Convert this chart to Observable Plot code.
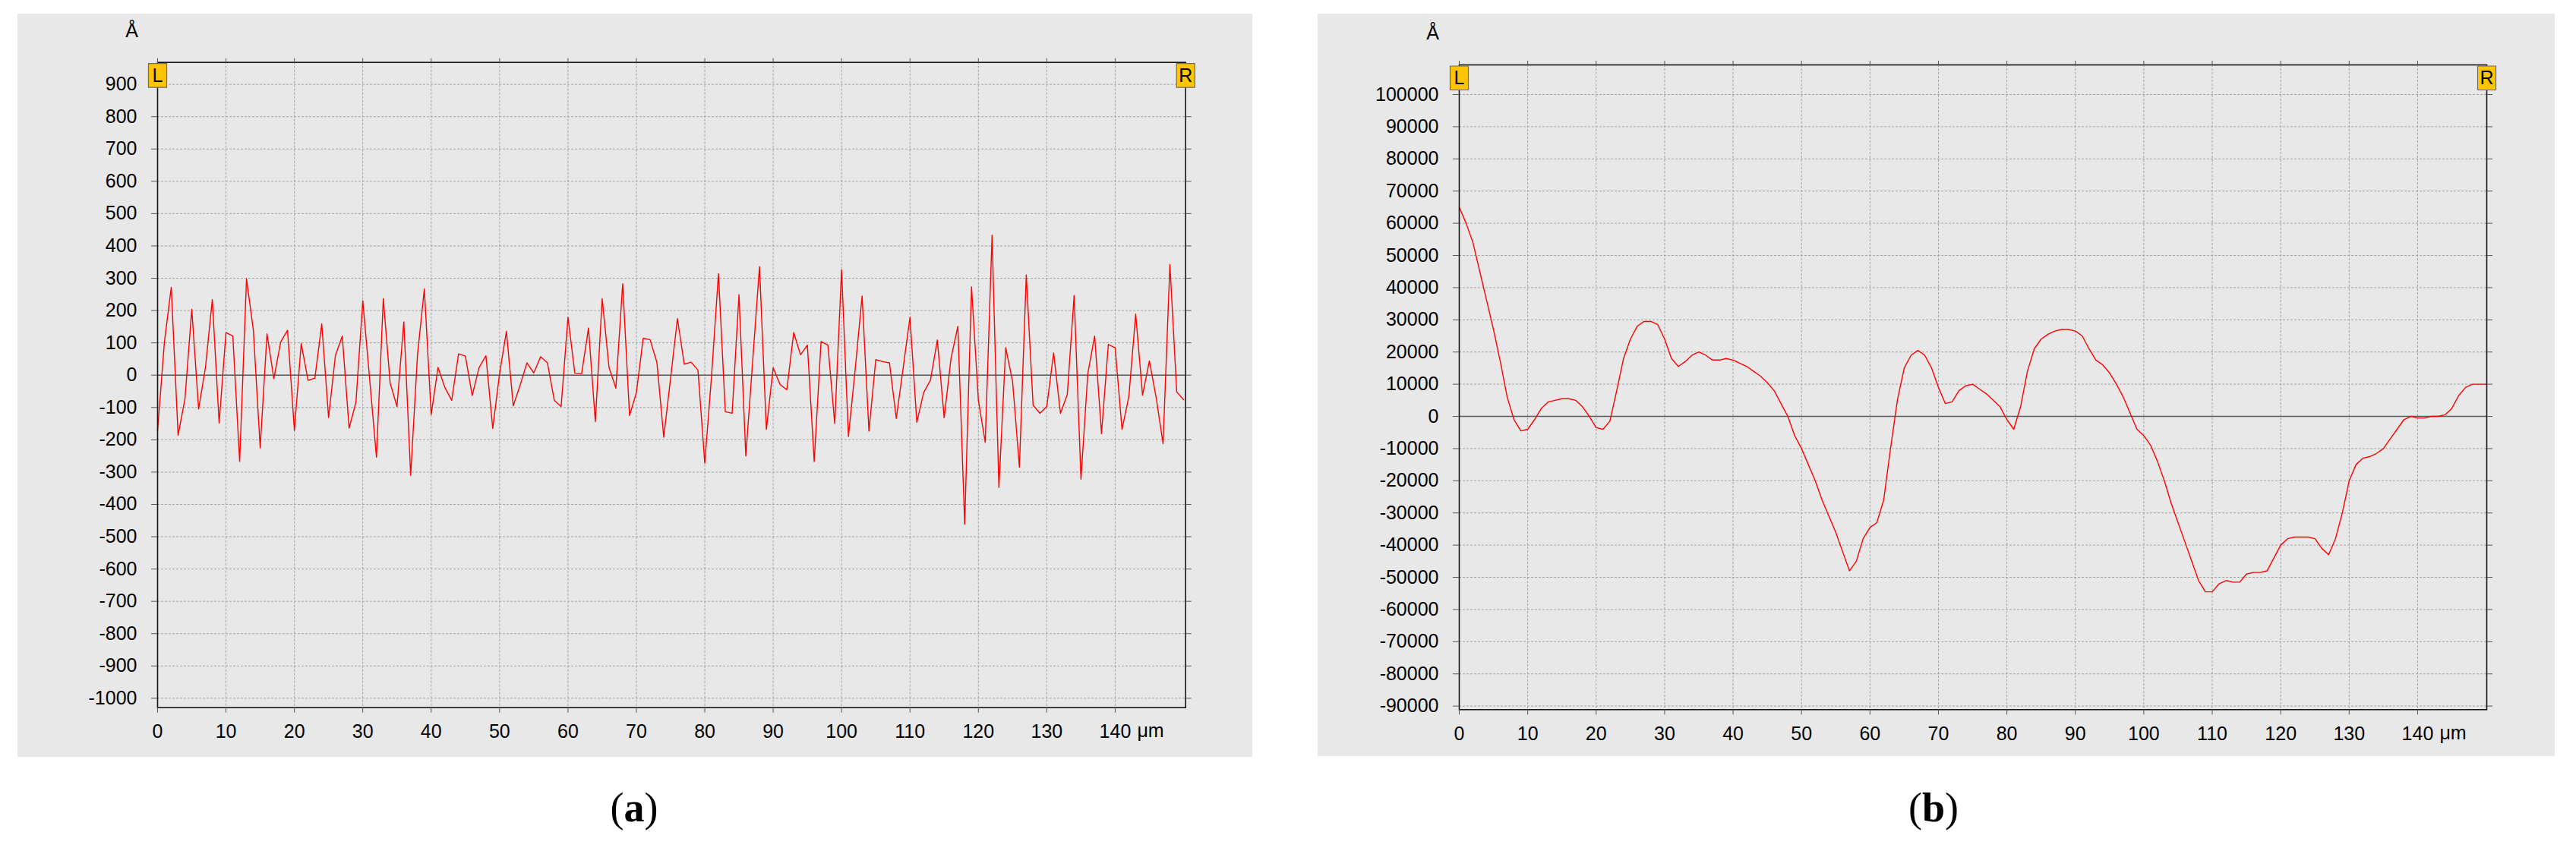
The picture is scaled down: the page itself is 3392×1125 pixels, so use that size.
<!DOCTYPE html>
<html><head><meta charset="utf-8">
<script src="https://cdn.jsdelivr.net/npm/d3@7"></script>
<script src="https://cdn.jsdelivr.net/npm/@observablehq/plot@0.6"></script>
<style>
body{margin:0;background:#fff;}
#root{position:relative;width:3392px;height:1125px;overflow:hidden;background:#fff;font-family:"Liberation Sans",Arial,sans-serif;}
.panel{position:absolute;background:#e8e8e8;}
.cap{position:absolute;font-family:"Liberation Serif","Times New Roman",serif;font-size:54px;transform:translate(-50%,-50%);color:#000;}
</style></head><body><div id="root"></div><script>
// positions along the profile (µm)
const positionsUm = [0,1,2,3,4,5,6,7,8,9,10,11,12,13,14,15,16,17,18,19,20,21,22,23,24,25,26,27,28,29,30,31,32,33,34,35,36,37,38,39,40,41,42,43,44,45,46,47,48,49,50,51,52,53,54,55,56,57,58,59,60,61,62,63,64,65,66,67,68,69,70,71,72,73,74,75,76,77,78,79,80,81,82,83,84,85,86,87,88,89,90,91,92,93,94,95,96,97,98,99,100,101,102,103,104,105,106,107,108,109,110,111,112,113,114,115,116,117,118,119,120,121,122,123,124,125,126,127,128,129,130,131,132,133,134,135,136,137,138,139,140,141,142,143,144,145,146,147,148,149,150];

// (a) profile heights (Å)
const heightsA = [-171,103,272,-186,-74,204,-105,24,234,-148,132,121,-267,298,140,-225,128,-11,103,139,
-171,98,-16,-9,159,-131,61,121,-164,-84,230,-11,-254,237,-24,-97,165,-310,63,267,
-122,24,-38,-78,66,59,-63,23,60,-165,5,136,-95,-31,38,7,57,38,-78,-97,
179,6,5,146,-144,237,24,-40,283,-125,-54,114,110,40,-192,-10,175,34,40,16,
-272,0,314,-113,-118,249,-250,43,336,-168,23,-29,-45,132,63,93,-267,104,93,-150,
326,-190,20,245,-173,48,42,38,-134,22,179,-146,-54,-15,109,-132,52,151,-461,273,
-78,-208,433,-348,85,-19,-285,310,-93,-118,-97,69,-118,-60,247,-322,5,121,-181,95,
85,-168,-66,189,-62,44,-70,-212,343,-52,-76];

// (b) profile heights (Å)
const heightsB = [65000,60000,54000,45000,36000,27000,17000,6000,-1000,-4500,
-4000,-1000,2500,4500,5000,5500,5500,5000,3000,0,
-3500,-4000,-1500,8000,18000,24000,28000,29500,29500,28500,
24000,18000,15500,17000,19000,20000,19000,17500,17500,18000,
17500,16500,15500,14000,12500,10500,8000,4000,0,-6000,
-10000,-15000,-20000,-26000,-31000,-36000,-42000,-48000,-45000,-38000,
-34500,-33000,-26000,-10000,5000,15000,19000,20500,19000,15000,
9000,4000,4500,8000,9500,10000,8500,7000,5000,3000,
-1000,-4000,3000,14000,21000,24000,25500,26500,27000,27000,
26500,25000,21000,17500,16000,13500,10000,6000,1000,-4000,
-6000,-9000,-14000,-20000,-27000,-33000,-39000,-45000,-51000,-54500,
-54500,-52000,-51000,-51500,-51500,-49000,-48500,-48500,-48000,-44000,
-40000,-38000,-37500,-37500,-37500,-38000,-41000,-43000,-38000,-30000,
-20000,-15000,-13000,-12500,-11500,-10000,-7000,-4000,-1000,0,
-500,-500,0,0,500,2500,6500,9000,10000,10000,
10000];

// axis ticks
const xTicks = [0,10,20,30,40,50,60,70,80,90,100,110,120,130,140];
const yTicksA = [-1000,-900,-800,-700,-600,-500,-400,-300,-200,-100,0,100,200,300,400,500,600,700,800,900];
const yTicksB = [-90000,-80000,-70000,-60000,-50000,-40000,-30000,-20000,-10000,0,10000,20000,30000,40000,50000,60000,70000,80000,90000,100000];
const yUnit = "Å";
const xUnit = "μm";
const markers = [{side:"top-left", label:"L"}, {side:"top-right", label:"R"}];
const captions = ["a", "b"];

const root = document.getElementById("root");

const markerBox = {draw(ctx){ ctx.moveTo(-12,1.5); ctx.lineTo(12,1.5); ctx.lineTo(12,33); ctx.lineTo(-12,33); ctx.closePath(); }};

function makePanel(cfg){
  const rows = positionsUm.map((x,i)=>({x, y: cfg.values[i]}));
  const div = document.createElement("div");
  div.className = "panel";
  Object.assign(div.style, {left: cfg.left+"px", top: cfg.top+"px", width: cfg.width+"px", height: cfg.height+"px"});
  const fmt = d => String(d);
  const chart = Plot.plot({
    width: cfg.width, height: cfg.height,
    marginLeft: cfg.ml, marginRight: cfg.mr, marginTop: cfg.mt, marginBottom: cfg.mb,
    style: {background:"transparent", fontFamily:"'Liberation Sans', Arial, sans-serif", color:"#000", overflow:"visible"},
    x: {domain: cfg.xDomain},
    y: {domain: cfg.yDomain},
    marks: [
      Plot.gridY(cfg.yTicks, {stroke:"#a4a4a4", strokeOpacity:1, strokeWidth:1, strokeDasharray:"3,2"}),
      Plot.gridX(xTicks, {stroke:"#a4a4a4", strokeOpacity:1, strokeWidth:1, strokeDasharray:"3,2"}),
      Plot.ruleY([0], {stroke:"#5a5a5a", strokeWidth:1.6}),
      Plot.line(rows, {x:"x", y:"y", stroke:"#ff0000", strokeWidth:1.4}),
      Plot.frame({stroke:"#151515", strokeWidth:1.6}),
      Plot.axisY(cfg.yTicks, {anchor:"left", tickSize:8, tickPadding:19, fontSize:25, tickFormat:fmt, label:null, stroke:"#555"}),
      Plot.axisY(cfg.yTicks, {anchor:"right", tickSize:7, tickFormat:()=>"", label:null, stroke:"#555"}),
      Plot.axisX(xTicks, {anchor:"bottom", tickSize:7, tickPadding:15, fontSize:25, tickFormat:fmt, label:null, stroke:"#555"}),
      Plot.axisX(xTicks, {anchor:"top", tickSize:6, tickFormat:()=>"", label:null, stroke:"#555"}),
      Plot.text([{x:140, t:xUnit}], {x:"x", text:"t", frameAnchor:"bottom", textAnchor:"start", lineAnchor:"middle", dx:29, dy:31, fontSize:25}),
      Plot.text([yUnit], {frameAnchor:"top-left", textAnchor:"middle", lineAnchor:"middle", dx:cfg.unitDx, dy:cfg.unitDy, fontSize:25}),
      ...markers.map(m => Plot.dot([m], {frameAnchor:m.side, symbol:markerBox, fill:"#ffc600", stroke:"#6a6a6a", strokeWidth:1.2})),
      ...markers.map(m => Plot.text([m], {frameAnchor:m.side, text:"label", textAnchor:"middle", lineAnchor:"middle", dy:17.5, fontSize:25}))
    ]
  });
  div.appendChild(chart);
  root.appendChild(div);
  const cap = document.createElement("div");
  cap.className = "cap";
  cap.innerHTML = "(<b>" + cfg.caption + "</b>)";
  Object.assign(cap.style, {left: cfg.capX+"px", top: cfg.capY+"px"});
  root.appendChild(cap);
}

makePanel({values: heightsA, yTicks: yTicksA, yDomain:[-1029, 968], xDomain:[0,150.3],
  left:23, top:18, width:1626, height:979, ml:184, mr:88.3, mt:63.7, mb:65.3,
  unitDx:-34, unitDy:-41, caption:captions[0], capX:835, capY:1064});
makePanel({values: heightsB, yTicks: yTicksB, yDomain:[-91100, 109200], xDomain:[0,150.1],
  left:1735, top:18, width:1629, height:978, ml:186, mr:90, mt:67, mb:61.7,
  unitDx:-35, unitDy:-42, caption:captions[1], capX:2546, capY:1064});
</script></body></html>
